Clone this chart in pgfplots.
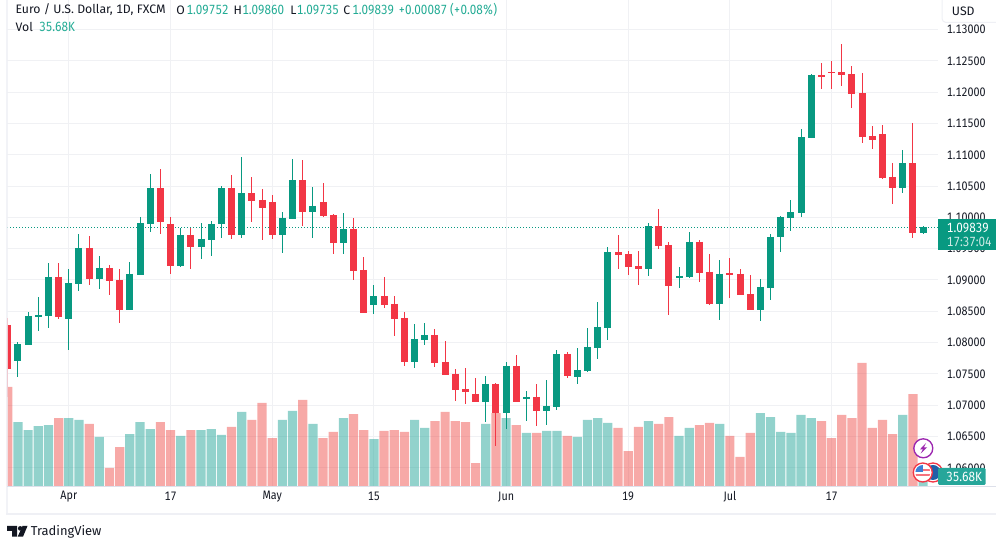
\documentclass[border=0pt]{standalone}
\usepackage{fontspec}
\setmainfont{Fira Sans}[Numbers={Monospaced,Lining}]
\newfontfamily\numfont{Fira Sans}[Numbers={Monospaced,Lining}, FakeStretch=0.875]
\usepackage{pgfplots}
\usepackage{pgfplotstable}
\pgfplotsset{compat=1.18}

\definecolor{upc}{HTML}{089981}
\definecolor{downc}{HTML}{F23645}
\definecolor{volup}{HTML}{26A69A}
\definecolor{voldown}{HTML}{EF5350}
\definecolor{hdrc}{HTML}{22AB94}
\definecolor{gridc}{HTML}{F0F1F4}
\definecolor{framec}{HTML}{EFF0F5}
\definecolor{axisc}{HTML}{DDE0EA}
\definecolor{ink}{HTML}{131722}
\definecolor{boltc}{HTML}{9C27B0}
\definecolor{flagblue}{HTML}{3D7FD6}
\definecolor{eublue}{HTML}{1F5FA8}

% rising days: i open high low close vol(K)
\pgfplotstableread{
i open high low close vol
1 1.07706 1.08010 1.07450 1.07978 240
2 1.07962 1.08489 1.07962 1.08425 210
3 1.08409 1.08728 1.08185 1.08441 225
4 1.08425 1.09271 1.08233 1.09048 229
6 1.08377 1.09175 1.07882 1.08952 255
7 1.08936 1.09735 1.08824 1.09511 248
9 1.09016 1.09383 1.08856 1.09191 184
12 1.08521 1.09287 1.08521 1.09096 195
13 1.09080 1.10006 1.09080 1.09910 240
14 1.09894 1.10693 1.09767 1.10469 214
17 1.09223 1.09830 1.09207 1.09719 188
19 1.09527 1.09910 1.09335 1.09655 210
20 1.09639 1.09942 1.09383 1.09894 214
21 1.09894 1.10501 1.09671 1.10469 192
23 1.09719 1.10964 1.09671 1.10389 278
27 1.09719 1.10086 1.09431 1.09990 248
28 1.09974 1.10932 1.09974 1.10597 282
30 1.10086 1.10485 1.09671 1.10182 233
33 1.09591 1.10070 1.09415 1.09814 255
36 1.08601 1.08920 1.08457 1.08744 176
40 1.07690 1.08297 1.07594 1.08058 248
41 1.08042 1.08313 1.07962 1.08121 218
47 1.07051 1.07466 1.06732 1.07339 233
49 1.06876 1.07690 1.06620 1.07626 255
51 1.07099 1.07227 1.06748 1.07131 199
53 1.06908 1.07403 1.06684 1.06987 207
54 1.06971 1.07882 1.06924 1.07818 207
56 1.07450 1.07914 1.07339 1.07562 184
57 1.07546 1.08233 1.07530 1.07930 248
58 1.07914 1.08649 1.07738 1.08249 255
59 1.08233 1.09527 1.08042 1.09447 237
63 1.09175 1.09910 1.09064 1.09862 244
66 1.09032 1.09207 1.08872 1.09064 188
67 1.09048 1.09767 1.09032 1.09607 218
70 1.08617 1.09319 1.08361 1.09096 233
74 1.08521 1.09016 1.08345 1.08888 274
75 1.08872 1.09735 1.08681 1.09687 259
76 1.09687 1.10022 1.09447 1.10006 203
77 1.09990 1.10278 1.09783 1.10086 199
78 1.10070 1.11412 1.10006 1.11284 267
79 1.11268 1.12290 1.11268 1.12274 255
88 1.10469 1.11076 1.10389 1.10868 267
90 1.09752 1.09860 1.09735 1.09839 35.68
}\upTable

% falling days
\pgfplotstableread{
i open high low close vol
0 1.08281 1.08393 1.07131 1.07578 372
5 1.09048 1.09271 1.08377 1.08409 255
8 1.09511 1.09703 1.08920 1.09016 233
10 1.09191 1.09239 1.08760 1.08984 68
11 1.09000 1.09175 1.08313 1.08521 146
15 1.10469 1.10772 1.09735 1.09926 240
16 1.09894 1.10006 1.09096 1.09223 210
18 1.09719 1.09830 1.09175 1.09527 210
22 1.10469 1.10677 1.09655 1.09719 222
24 1.10389 1.10645 1.09926 1.10262 248
25 1.10278 1.10453 1.09639 1.10150 312
26 1.10246 1.10357 1.09655 1.09719 180
29 1.10597 1.10916 1.09862 1.10086 323
31 1.10246 1.10549 1.10006 1.10022 180
32 1.10038 1.10054 1.09415 1.09591 203
34 1.09814 1.09990 1.09000 1.09144 270
35 1.09160 1.09367 1.08473 1.08473 210
37 1.08744 1.09048 1.08553 1.08601 207
38 1.08617 1.08744 1.08105 1.08377 210
39 1.08393 1.08489 1.07626 1.07690 203
42 1.08121 1.08217 1.07610 1.07674 244
43 1.07690 1.08026 1.07482 1.07482 278
44 1.07498 1.07578 1.07067 1.07243 244
45 1.07259 1.07594 1.07019 1.07211 240
46 1.07179 1.07434 1.07051 1.07051 86
48 1.07339 1.07355 1.06349 1.06876 274
50 1.07626 1.07802 1.07051 1.07051 229
52 1.07131 1.07339 1.06668 1.06908 199
55 1.07818 1.07850 1.07434 1.07466 188
60 1.09447 1.09719 1.09175 1.09399 218
61 1.09415 1.09463 1.09080 1.09207 131
62 1.09223 1.09463 1.08920 1.09175 222
64 1.09862 1.10134 1.09495 1.09543 233
65 1.09559 1.09607 1.08441 1.08904 259
68 1.09607 1.09639 1.08968 1.09112 229
69 1.09128 1.09415 1.08601 1.08617 237
71 1.09112 1.09351 1.08713 1.09080 188
72 1.09096 1.09175 1.08760 1.08760 109
73 1.08776 1.09080 1.08521 1.08521 199
80 1.12274 1.12466 1.12051 1.12242 244
81 1.12322 1.12498 1.12051 1.12306 180
82 1.12322 1.12769 1.12098 1.12274 267
83 1.12290 1.12418 1.11747 1.11971 255
84 1.11987 1.12306 1.11188 1.11284 462
85 1.11300 1.11459 1.11092 1.11236 218
86 1.11332 1.11475 1.10613 1.10629 248
87 1.10645 1.10868 1.10214 1.10469 195
89 1.10868 1.11507 1.09671 1.09751 345
}\downTable

\pgfplotsset{
  panel/.style={
    scale only axis, width=698.25pt, height=364.5pt,
    at={(5.25pt,46.5pt)}, anchor=south west,
    xmin=-0.0787, xmax=91.465,
  },
  price/.style={panel, ymin=1.05709, ymax=1.13473},
  wick/.style={draw=none, no markers, forget plot,
    error bars/.cd, y dir=both, y explicit, error mark=none,
    error bar style={draw=#1, line width=0.75pt}},
  body/.style={draw=none, no markers, forget plot,
    error bars/.cd, y dir=both, y explicit, error mark=none,
    error bar style={draw=#1, line width=5.25pt}},
}

\begin{document}
\begin{tikzpicture}[font=\fontsize{9.2}{10}\selectfont]
\useasboundingbox (0pt,0pt) rectangle (747pt,411pt);

% grid and tick labels
\begin{axis}[price,
    axis line style={draw=none},
    tick style={draw=none},
    ytick pos=right,
    xtick pos=bottom,
    ytick={1.06,1.065,1.07,1.075,1.08,1.085,1.09,1.095,1.10,1.105,1.11,1.115,1.12,1.125,1.13},
    xtick={6,16,26,36,49,61,71,81},
    xticklabels={Apr,17,May,15,Jun,19,Jul,17},
    scaled y ticks=false,
    yticklabel style={/pgf/number format/fixed, /pgf/number format/fixed zerofill,
      /pgf/number format/precision=5, /pgf/number format/assume math mode=true,
      anchor=west, inner sep=0pt, xshift=6.5pt, text=ink,
      font=\fontsize{9.2}{10}\selectfont\numfont},
    xticklabel style={anchor=center, inner sep=0pt, yshift=-8pt, text=ink,
      font=\fontsize{9.2}{10}\selectfont\numfont},
    grid=major,
    major grid style={draw=gridc, line width=0.75pt},
  ]
  \addplot[upc, line width=0.75pt, dash pattern=on 0.9pt off 1.35pt] coordinates {(-0.0787,1.09839) (91.465,1.09839)};
\end{axis}

% volume bars
\begin{axis}[panel, hide axis, ymin=0, ymax=1825, ybar, bar width=6.9pt, bar shift=0pt]
  \addplot[draw=none, fill=volup, fill opacity=0.5] table[x=i, y=vol] {\upTable};
  \addplot[draw=none, fill=voldown, fill opacity=0.5] table[x=i, y=vol] {\downTable};
\end{axis}

% candles
\begin{axis}[price, hide axis]
  \addplot[wick=upc] table[x=i, y=open,
    y error plus expr=\thisrow{high}-\thisrow{open},
    y error minus expr=\thisrow{open}-\thisrow{low}] {\upTable};
  \addplot[wick=downc] table[x=i, y=open,
    y error plus expr=\thisrow{high}-\thisrow{open},
    y error minus expr=\thisrow{open}-\thisrow{low}] {\downTable};
  \addplot[body=upc] table[x=i, y=close,
    y error plus expr=0,
    y error minus expr=\thisrow{close}-\thisrow{open}] {\upTable};
  \addplot[body=downc] table[x=i, y=open,
    y error plus expr=0,
    y error minus expr=\thisrow{open}-\thisrow{close}] {\downTable};
\end{axis}

% overlays in image pixels, origin top left
\begin{scope}[shift={(0pt,411pt)}, x=0.75pt, y=-0.75pt]
% frame
\fill[framec, opacity=0.8] (6,0) rectangle (8,515);
\fill[framec] (6,513) rectangle (996,515);
\fill[axisc] (7,486) rectangle (996,487);

% event icons
\draw[draw=downc, fill=white, line width=1pt] (933,472.5) circle (9.5);
\fill[eublue] (933,472.5) circle (7.5);
\draw[draw=downc, fill=white, line width=1pt] (922.8,472.5) circle (9.5);
\begin{scope}
  \clip (922.8,472.5) circle (7.5);
  \fill[downc!70] (914,474) rectangle (932,476.5);
  \fill[downc!70] (922,469) rectangle (932,471);
  \fill[flagblue] (914,464) rectangle (923,472);
\end{scope}
\draw[draw=boltc, fill=white, line width=1pt] (923.3,448.3) circle (9.5);
\fill[boltc] (926,443) -- (920,449.3) -- (923,449.3) -- (920.5,453.7) -- (927,447.5) -- (923.8,447.5) -- cycle;

% price and volume tags
\fill[upc] (938,219) rectangle (996,250);
\node[white, anchor=west, inner sep=0pt, font=\numfont] at (946.7,228) {1.09839};
\node[white, opacity=0.8, anchor=west, inner sep=0pt, font=\numfont] at (946.7,241.5) {17:37:04};
\fill[volup, rounded corners=1pt] (938,468) rectangle (985.7,485);
\node[white, anchor=west, inner sep=0pt, font=\numfont] at (946,476.5) {35.68K};

% currency button
\begin{scope}
\clip (930,0) rectangle (996,30);
\draw[draw=framec, fill=white, line width=0.75pt, rounded corners=3pt] (942,-5) rectangle (1000,22.5);
\end{scope}
\node[ink, anchor=west, inner sep=0pt] at (951.7,11.7) {USD};

% header
\node[ink, anchor=west, inner sep=0pt] at (15.3,10) {Euro / U.S. Dollar, 1D, FXCM};
\node[ink, anchor=west, inner sep=0pt] at (176,10) {O};
\node[hdrc, anchor=west, inner sep=0pt, font=\numfont] at (186.3,10) {1.09752};
\node[ink, anchor=west, inner sep=0pt] at (233.3,10) {H};
\node[hdrc, anchor=west, inner sep=0pt, font=\numfont] at (242,10) {1.09860};
\node[ink, anchor=west, inner sep=0pt] at (290,10) {L};
\node[hdrc, anchor=west, inner sep=0pt, font=\numfont] at (296.7,10) {1.09735};
\node[ink, anchor=west, inner sep=0pt] at (343,10) {C};
\node[hdrc, anchor=west, inner sep=0pt, font=\numfont] at (352,10) {1.09839};
\node[hdrc, anchor=west, inner sep=0pt, font=\numfont] at (398.3,10) {+0.00087 (+0.08\%)};
\node[ink, anchor=west, inner sep=0pt] at (15.3,27) {Vol};
\node[hdrc, anchor=west, inner sep=0pt, font=\numfont] at (39,27) {35.68K};

% logo
\fill[ink] (7,526) -- (17,526) -- (17,536.7) -- (12,536.7) -- (12,531) -- (7,531) -- cycle;
\fill[ink] (20.2,528.4) circle (2.3);
\fill[ink] (22.5,526) -- (27.5,526) -- (23,536.7) -- (17.7,536.7) -- cycle;
\node[ink, anchor=west, inner sep=0pt, font=\fontsize{9.7}{11}\selectfont] at (30.5,532) {TradingView};
\end{scope}
\end{tikzpicture}
\end{document}
